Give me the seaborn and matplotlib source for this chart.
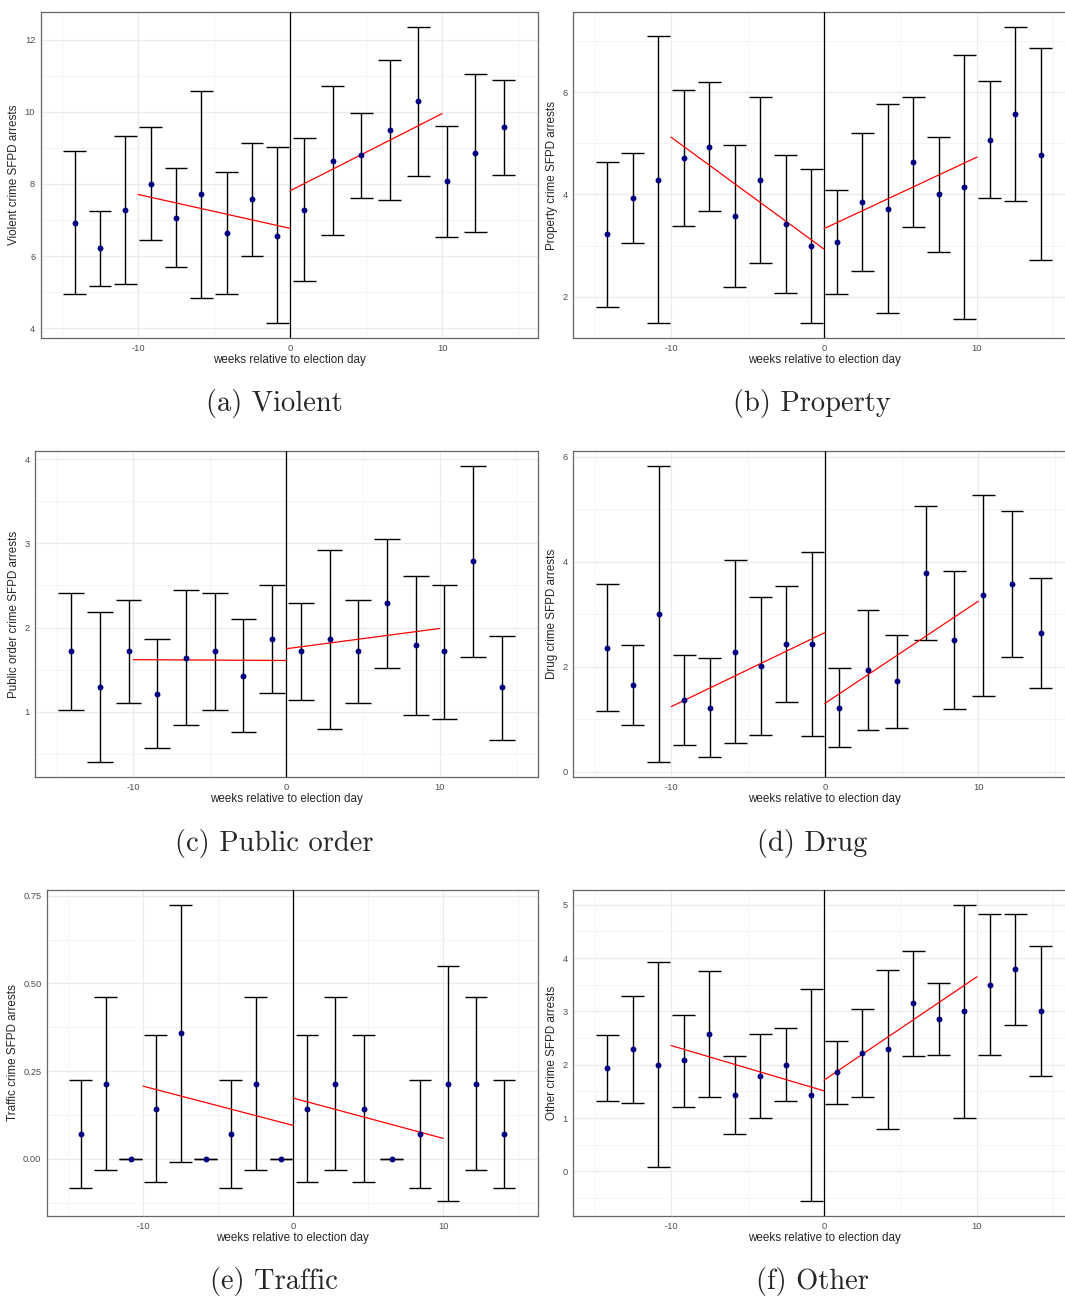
import numpy as np
import pandas as pd
import matplotlib
matplotlib.use("Agg")
import matplotlib.pyplot as plt
import seaborn as sns
from matplotlib.ticker import MultipleLocator, FormatStrFormatter

# bin centres (weeks relative to election day)
weeks_pre9 = [-14.17, -12.5, -10.83, -9.17, -7.5, -5.83, -4.17, -2.5, -0.83]
weeks_pre8 = [-14.06, -12.19, -10.31, -8.44, -6.56, -4.69, -2.81, -0.94]
weeks_post9 = [0.83, 2.5, 4.17, 5.83, 7.5, 9.17, 10.83, 12.5, 14.17]
weeks_post8 = [0.94, 2.81, 4.69, 6.56, 8.44, 10.31, 12.19, 14.06]

fit_pre_x = [-10, 0]
fit_post_x = [0, 10]

# (a) Violent
violent_mean = [6.93, 6.22, 7.29, 8.00, 7.07, 7.72, 6.65, 7.57, 6.57,
                7.29, 8.65, 8.79, 9.50, 10.29, 8.07, 8.86, 9.58]
violent_hi = [8.92, 7.26, 9.34, 9.58, 8.45, 10.58, 8.34, 9.15, 9.02,
              9.27, 10.71, 9.97, 11.43, 12.35, 9.60, 11.04, 10.89]
violent_lo = [4.94, 5.18, 5.24, 6.44, 5.69, 4.85, 4.96, 5.99, 4.14,
              5.32, 6.58, 7.61, 7.56, 8.23, 6.54, 6.68, 8.26]
violent_fit_pre = [7.71, 6.77]
violent_fit_post = [7.81, 9.95]

# (b) Property
property_mean = [3.22, 3.93, 4.28, 4.71, 4.93, 3.57, 4.28, 3.43, 3.00,
                 3.07, 3.85, 3.72, 4.64, 4.00, 4.14, 5.07, 5.57, 4.78]
property_hi = [4.63, 4.82, 7.11, 6.05, 6.20, 4.97, 5.91, 4.78, 4.50,
               4.09, 5.21, 5.76, 5.91, 5.13, 6.73, 6.22, 7.28, 6.87]
property_lo = [1.80, 3.04, 1.48, 3.39, 3.67, 2.18, 2.66, 2.07, 1.49,
               2.05, 2.50, 1.67, 3.37, 2.87, 1.56, 3.93, 3.87, 2.71]
property_fit_pre = [5.12, 2.93]
property_fit_post = [3.33, 4.73]

# (c) Public order
public_mean = [1.72, 1.29, 1.72, 1.21, 1.64, 1.72, 1.43, 1.86,
               1.72, 1.86, 1.72, 2.29, 1.79, 1.72, 2.79, 1.29]
public_hi = [2.41, 2.18, 2.33, 1.86, 2.45, 2.41, 2.10, 2.50,
             2.29, 2.92, 2.33, 3.05, 2.61, 2.51, 3.92, 1.90]
public_lo = [1.02, 0.40, 1.10, 0.57, 0.84, 1.02, 0.76, 1.22,
             1.14, 0.80, 1.10, 1.52, 0.96, 0.92, 1.65, 0.67]
public_fit_pre = [1.62, 1.61]
public_fit_post = [1.75, 1.99]

# (d) Drug
drug_mean = [2.36, 1.65, 3.01, 1.37, 1.22, 2.29, 2.01, 2.43, 2.43,
             1.22, 1.93, 1.72, 3.79, 2.51, 3.36, 3.58, 2.65]
drug_hi = [3.57, 2.42, 5.83, 2.23, 2.16, 4.04, 3.32, 3.54, 4.19,
           1.97, 3.08, 2.61, 5.07, 3.82, 5.28, 4.97, 3.70]
drug_lo = [1.15, 0.88, 0.18, 0.50, 0.28, 0.54, 0.69, 1.33, 0.68,
           0.46, 0.79, 0.83, 2.51, 1.19, 1.44, 2.18, 1.60]
drug_fit_pre = [1.24, 2.65]
drug_fit_post = [1.30, 3.25]

# (e) Traffic
traffic_mean = [0.071, 0.214, 0.0, 0.143, 0.358, 0.0, 0.071, 0.214, 0.0,
                0.143, 0.214, 0.143, 0.0, 0.071, 0.214, 0.214, 0.071]
traffic_hi = [0.225, 0.461, 0.0, 0.353, 0.724, 0.0, 0.225, 0.461, 0.0,
              0.353, 0.461, 0.353, 0.0, 0.225, 0.549, 0.461, 0.225]
traffic_lo = [-0.083, -0.031, 0.0, -0.067, -0.009, 0.0, -0.083, -0.031, 0.0,
              -0.067, -0.031, -0.067, 0.0, -0.083, -0.121, -0.031, -0.083]
traffic_fit_pre = [0.207, 0.095]
traffic_fit_post = [0.173, 0.058]

# (f) Other
other_mean = [1.93, 2.29, 2.00, 2.08, 2.57, 1.43, 1.79, 2.00, 1.43,
              1.86, 2.22, 2.29, 3.15, 2.86, 3.00, 3.50, 3.79, 3.00]
other_hi = [2.55, 3.29, 3.93, 2.94, 3.75, 2.16, 2.57, 2.68, 3.42,
            2.45, 3.04, 3.77, 4.13, 3.53, 5.00, 4.82, 4.83, 4.22]
other_lo = [1.32, 1.29, 0.08, 1.21, 1.40, 0.70, 1.00, 1.32, -0.56,
            1.27, 1.40, 0.80, 2.16, 2.19, 1.00, 2.19, 2.75, 1.78]
other_fit_pre = [2.36, 1.51]
other_fit_post = [1.71, 3.65]

sns.set_style("white")
plt.rcParams['font.family'] = ['Liberation Sans', 'DejaVu Sans']
plt.rcParams['axes.unicode_minus'] = False

W, H = 1065, 1299
fig = plt.figure(figsize=(W / 100, H / 100), dpi=100)


def add_panel(left, right, top, bottom):
    return fig.add_axes([left / W, 1 - bottom / H, (right - left) / W, (bottom - top) / H])


def draw_panel(ax, weeks, mean, lo, hi, fit_pre, fit_post, ylabel, ystep, fmt):
    df = pd.DataFrame({'week': weeks, 'mean': mean, 'lo': lo, 'hi': hi})
    half = 0.45 * np.diff(df['week']).min()
    ax.vlines(df['week'], df['lo'], df['hi'], color='black', lw=1.0, zorder=3)
    ax.hlines(df['lo'], df['week'] - half, df['week'] + half, color='black', lw=1.0, zorder=3)
    ax.hlines(df['hi'], df['week'] - half, df['week'] + half, color='black', lw=1.0, zorder=3)
    ax.axvline(0, color='black', lw=0.9, zorder=3)
    fit = pd.DataFrame({'week': fit_pre_x + fit_post_x,
                        'fit': fit_pre + fit_post,
                        'side': ['pre', 'pre', 'post', 'post']})
    sns.lineplot(data=fit, x='week', y='fit', units='side', estimator=None,
                 color='red', lw=0.9, ax=ax, zorder=4)
    sns.scatterplot(data=df, x='week', y='mean', color='#00007f', s=18,
                    linewidth=0, ax=ax, zorder=5)
    ax.margins(x=0.05, y=0.05)
    ax.xaxis.set_major_locator(MultipleLocator(10))
    ax.xaxis.set_minor_locator(MultipleLocator(5))
    ax.yaxis.set_major_locator(MultipleLocator(ystep))
    ax.yaxis.set_minor_locator(MultipleLocator(ystep / 2))
    ax.yaxis.set_major_formatter(FormatStrFormatter(fmt))
    ax.xaxis.set_major_formatter(FormatStrFormatter('%d'))
    ax.grid(which='major', color='#EBEBEB', lw=0.9)
    ax.grid(which='minor', color='#F3F3F3', lw=0.6)
    ax.set_axisbelow(True)
    for sp in ax.spines.values():
        sp.set_color('#666666')
        sp.set_linewidth(0.9)
    ax.tick_params(which='major', length=2.5, width=0.6, color='#333333',
                   labelsize=6.7, labelcolor='#4D4D4D', pad=1.5)
    ax.tick_params(which='minor', length=0)
    ax.set_xlabel('weeks relative to election day', fontsize=8.4, labelpad=1)
    ax.set_ylabel(ylabel, fontsize=8.4, labelpad=3)


ax_a = add_panel(40.7, 537.7, 12.3, 338)
ax_b = add_panel(573, 1075, 12, 338)
ax_c = add_panel(35.3, 537.7, 451, 777.3)
ax_d = add_panel(573, 1075, 451, 777)
ax_e = add_panel(47, 537.7, 890, 1216)
ax_f = add_panel(573, 1075, 890, 1216)

draw_panel(ax_a, weeks_pre9 + weeks_post8, violent_mean, violent_lo, violent_hi,
           violent_fit_pre, violent_fit_post, 'Violent crime SFPD arrests', 2, '%d')
draw_panel(ax_b, weeks_pre9 + weeks_post9, property_mean, property_lo, property_hi,
           property_fit_pre, property_fit_post, 'Property crime SFPD arrests', 2, '%d')
draw_panel(ax_c, weeks_pre8 + weeks_post8, public_mean, public_lo, public_hi,
           public_fit_pre, public_fit_post, 'Public order crime SFPD arrests', 1, '%d')
draw_panel(ax_d, weeks_pre9 + weeks_post8, drug_mean, drug_lo, drug_hi,
           drug_fit_pre, drug_fit_post, 'Drug crime SFPD arrests', 2, '%d')
draw_panel(ax_e, weeks_pre9 + weeks_post8, traffic_mean, traffic_lo, traffic_hi,
           traffic_fit_pre, traffic_fit_post, 'Traffic crime SFPD arrests', 0.25, '%.2f')
draw_panel(ax_f, weeks_pre9 + weeks_post9, other_mean, other_lo, other_hi,
           other_fit_pre, other_fit_post, 'Other crime SFPD arrests', 1, '%d')

captions = ['(a) Violent', '(b) Property', '(c) Public order', '(d) Drug', '(e) Traffic', '(f) Other']
cap_x = [274, 812]
cap_y = [404, 843, 1282]
for i, cap in enumerate(captions):
    fig.text(cap_x[i % 2] / W, 1 - cap_y[i // 2] / H, cap, ha='center', va='center',
             family='cmr10', fontsize=20.5)

fig.savefig('out.png', dpi=100)
